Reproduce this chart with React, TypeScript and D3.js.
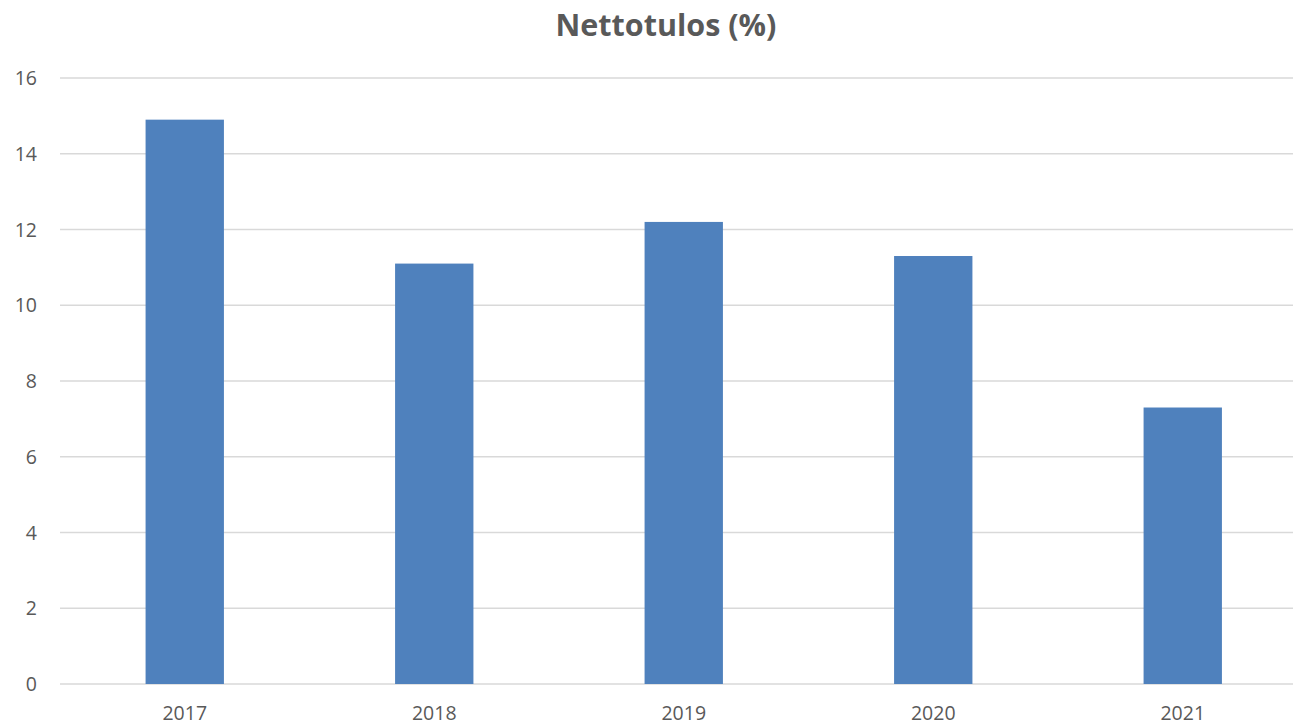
import React from "react";
import * as d3 from "d3";

const years = ["2017", "2018", "2019", "2020", "2021"];
const values = [14.9, 11.1, 12.2, 11.3, 7.3];
const yTicks = [0, 2, 4, 6, 8, 10, 12, 14, 16];
const title = "Nettotulos (%)";

const W = 1293;
const H = 725;

export default function App() {
  const x = d3
    .scaleBand<string>()
    .domain(years)
    .range([60, 1307.5])
    .paddingInner(0.686)
    .paddingOuter(0.343);
  const y = d3.scaleLinear().domain([0, 16]).range([684, 78]);
  const font = "'Open Sans', 'Liberation Sans', sans-serif";
  return (
    <svg
      width={W}
      height={H}
      style={{ position: "absolute", left: 0, top: 0, background: "#fff" }}
      fontFamily={font}
    >
      <rect width={W} height={H} fill="#fff" />
      <text
        x={666}
        y={36}
        textAnchor="middle"
        fontSize={30.5}
        fontWeight="bold"
        fill="#595959"
      >
        {title}
      </text>
      {yTicks.map((t) => (
        <g key={t}>
          <line x1={60} x2={1307} y1={y(t)} y2={y(t)} stroke="#d9d9d9" strokeWidth={1.5} />
          <text x={37} y={y(t) + 7} textAnchor="end" fontSize={19.5} fill="#595959">
            {t}
          </text>
        </g>
      ))}
      {years.map((yr, i) => (
        <rect
          key={yr}
          x={x(yr)!}
          y={y(values[i])}
          width={x.bandwidth()}
          height={y(0) - y(values[i])}
          fill="#4f81bd"
        />
      ))}
      {years.map((yr) => (
        <text
          key={yr}
          x={x(yr)! + x.bandwidth() / 2}
          y={720}
          textAnchor="middle"
          fontSize={19.5}
          fill="#595959"
        >
          {yr}
        </text>
      ))}
    </svg>
  );
}
